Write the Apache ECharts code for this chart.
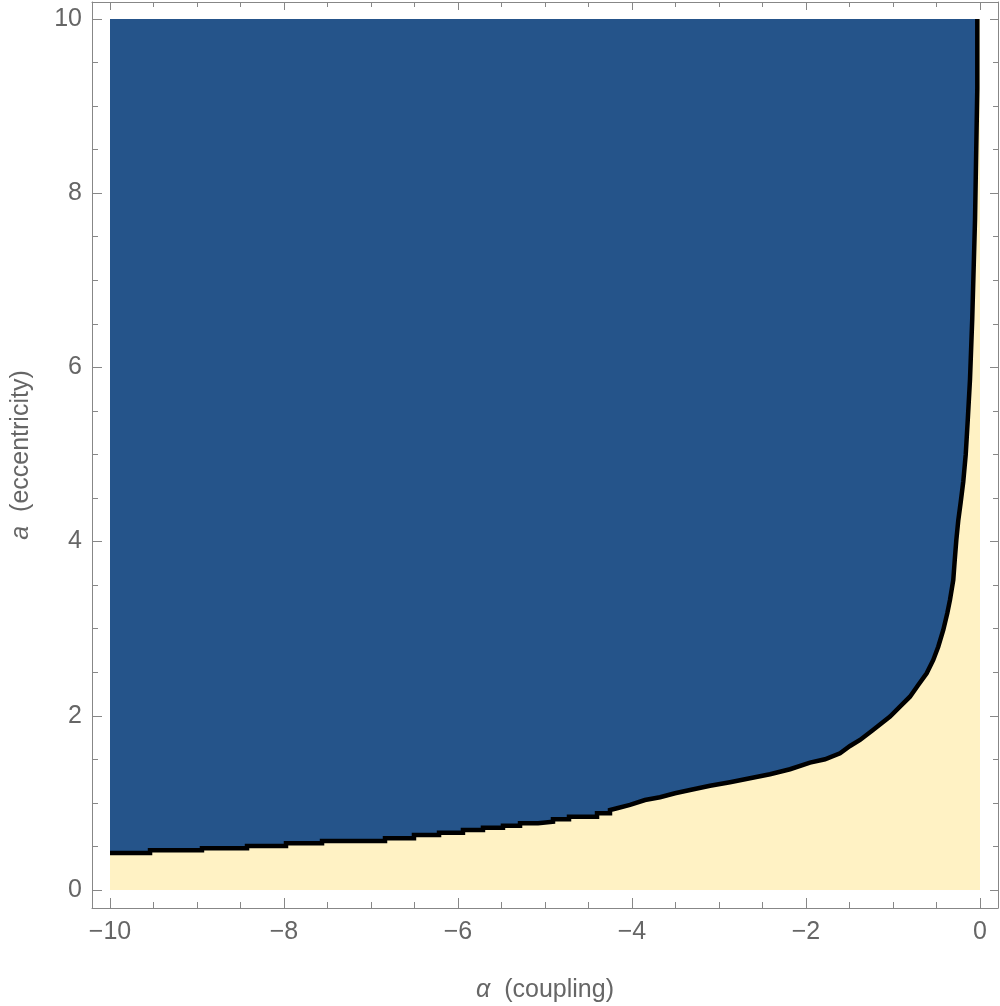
<!DOCTYPE html>
<html><head><meta charset="utf-8">
<script src="https://cdn.jsdelivr.net/npm/echarts@6/dist/echarts.min.js"></script>
<style>html,body{margin:0;padding:0;background:#fff}#c{width:1000px;height:1006px}</style>
</head><body><div id="c"></div>
<script>
// ---- data ----
const xTickLabels = [-10, -8, -6, -4, -2, 0];
const yTickLabels = [0, 2, 4, 6, 8, 10];
const xMinorTicks = [-10, -9.5, -9, -8.5, -8, -7.5, -7, -6.5, -6, -5.5, -5, -4.5, -4, -3.5, -3, -2.5, -2, -1.5, -1, -0.5, 0];
const yMinorTicks = [0, 0.5, 1, 1.5, 2, 2.5, 3, 3.5, 4, 4.5, 5, 5.5, 6, 6.5, 7, 7.5, 8, 8.5, 9, 9.5, 10];
const alphaRange = [-10, 0];
const eccRange = [0, 10];
// staircase part of the stability boundary (step edges in alpha, levels in a)
const stepEdgesAlpha = [-10, -9.54, -8.943, -8.425, -7.977, -7.563, -6.839, -6.506, -6.218, -5.943, -5.713, -5.483, -5.287, -5.08, -4.908, -4.724, -4.402, -4.253];
const stepLevelsEcc = [0.425, 0.456, 0.479, 0.505, 0.536, 0.563, 0.594, 0.631, 0.658, 0.689, 0.715, 0.738, 0.766, 0.784, 0.812, 0.842, 0.881];
// continuous part of the boundary
const curveAlpha = [-4.253, -4.172, -4.023, -3.851, -3.678, -3.506, -3.333, -3.103, -2.874, -2.644, -2.414, -2.184, -1.954, -1.782, -1.609, -1.494, -1.379, -1.230, -1.034, -0.920, -0.805, -0.710, -0.613, -0.537, -0.480, -0.422, -0.376, -0.345, -0.307, -0.290, -0.272, -0.250, -0.222, -0.192, -0.164, -0.141, -0.115, -0.089, -0.057, -0.031, -0.031];
const curveEcc = [0.918, 0.938, 0.976, 1.033, 1.064, 1.110, 1.148, 1.197, 1.237, 1.282, 1.328, 1.386, 1.462, 1.501, 1.569, 1.653, 1.722, 1.837, 1.990, 2.104, 2.219, 2.354, 2.488, 2.641, 2.793, 2.985, 3.177, 3.330, 3.559, 3.789, 4.018, 4.24, 4.45, 4.69, 5.0, 5.39, 5.86, 6.56, 7.7, 9.2, 10.0];

// ---- build boundary ----
const boundary = [];
for (let i = 0; i < stepLevelsEcc.length; i++) {
  boundary.push([stepEdgesAlpha[i], stepLevelsEcc[i]]);
  boundary.push([stepEdgesAlpha[i + 1], stepLevelsEcc[i]]);
}
for (let i = 0; i < curveAlpha.length; i++) boundary.push([curveAlpha[i], curveEcc[i]]);

const AX = '#878787', TX = '#666666', FONT = 'Liberation Sans';
const XMIN = -10.207, XMAX = 0.207, YMIN = -0.207, YMAX = 10.195;
const fmt = v => (v < 0 ? '\u2212' + Math.abs(v) : String(v));

function xAx(pos, major, len, showLine, extra) {
  return Object.assign({
    type: 'value', position: pos, min: XMIN, max: XMAX,
    axisLine: { show: showLine, onZero: false, lineStyle: { color: AX, width: 1 } },
    axisTick: { show: true, inside: true, length: len, customValues: major, lineStyle: { color: AX, width: 1 } },
    axisLabel: { show: false },
    splitLine: { show: false }
  }, extra || {});
}
function yAx(pos, major, len, showLine, extra) {
  return Object.assign({
    type: 'value', position: pos, min: YMIN, max: YMAX,
    axisLine: { show: showLine, onZero: false, lineStyle: { color: AX, width: 1 } },
    axisTick: { show: true, inside: true, length: len, customValues: major, lineStyle: { color: AX, width: 1 } },
    axisLabel: { show: false },
    splitLine: { show: false }
  }, extra || {});
}

const chart = echarts.init(document.getElementById('c'), null, { renderer: 'canvas' });
chart.setOption({
  animation: false,
  backgroundColor: '#ffffff',
  grid: { left: 92, right: 2, top: 2, bottom: 98, containLabel: false, outerBoundsMode: 'none' },
  xAxis: [
    xAx('bottom', xTickLabels, 10, true, {
      axisLabel: { show: true, customValues: xTickLabels, formatter: fmt, color: TX, fontSize: 25, fontFamily: FONT, margin: 12 },
      name: '{i|\u03b1}  (coupling)', nameLocation: 'middle', nameGap: 70,
      nameTextStyle: { color: TX, fontSize: 25, fontFamily: FONT, rich: { i: { fontStyle: 'italic', fontSize: 25, color: TX, fontFamily: FONT } } }
    }),
    xAx('bottom', xMinorTicks, 6, false),
    xAx('top', xTickLabels, 8, true),
    xAx('top', xMinorTicks, 5, false)
  ],
  yAxis: [
    yAx('left', yTickLabels, 10, true, {
      axisLabel: { show: true, customValues: yTickLabels, formatter: fmt, color: TX, fontSize: 25, fontFamily: FONT, margin: 10 },
      name: '{i|a}  (eccentricity)', nameLocation: 'middle', nameGap: 58,
      nameTextStyle: { color: TX, fontSize: 25, fontFamily: FONT, rich: { i: { fontStyle: 'italic', fontSize: 25, color: TX, fontFamily: FONT } } }
    }),
    yAx('left', yMinorTicks, 6, false),
    yAx('right', yTickLabels, 8, true),
    yAx('right', yMinorTicks, 5, false)
  ],
  series: [
    {
      type: 'custom', xAxisIndex: 0, yAxisIndex: 0, silent: true, z: 1,
      data: [[alphaRange[0], eccRange[0], alphaRange[1], eccRange[1]]],
      renderItem: (p, api) => {
        const a = api.coord([api.value(0), api.value(1)]);
        const b = api.coord([api.value(2), api.value(3)]);
        return { type: 'rect', shape: { x: a[0], y: b[1], width: b[0] - a[0], height: a[1] - b[1] }, style: { fill: '#fff2c4' } };
      }
    },
    {
      type: 'custom', xAxisIndex: 0, yAxisIndex: 0, silent: true, z: 2,
      data: [[alphaRange[0], eccRange[1]]],
      renderItem: (p, api) => {
        const pts = [api.coord([alphaRange[0], eccRange[1]])];
        boundary.forEach(d => pts.push(api.coord(d)));
        pts.push(api.coord([boundary[boundary.length - 1][0], eccRange[1]]));
        return { type: 'polygon', shape: { points: pts }, style: { fill: '#25548a' } };
      }
    },
    {
      type: 'line', xAxisIndex: 0, yAxisIndex: 0, z: 3, silent: true,
      data: boundary, showSymbol: false, symbol: 'none',
      lineStyle: { color: '#000000', width: 4.5, join: 'miter' }
    }
  ]
});
</script>
</body></html>
